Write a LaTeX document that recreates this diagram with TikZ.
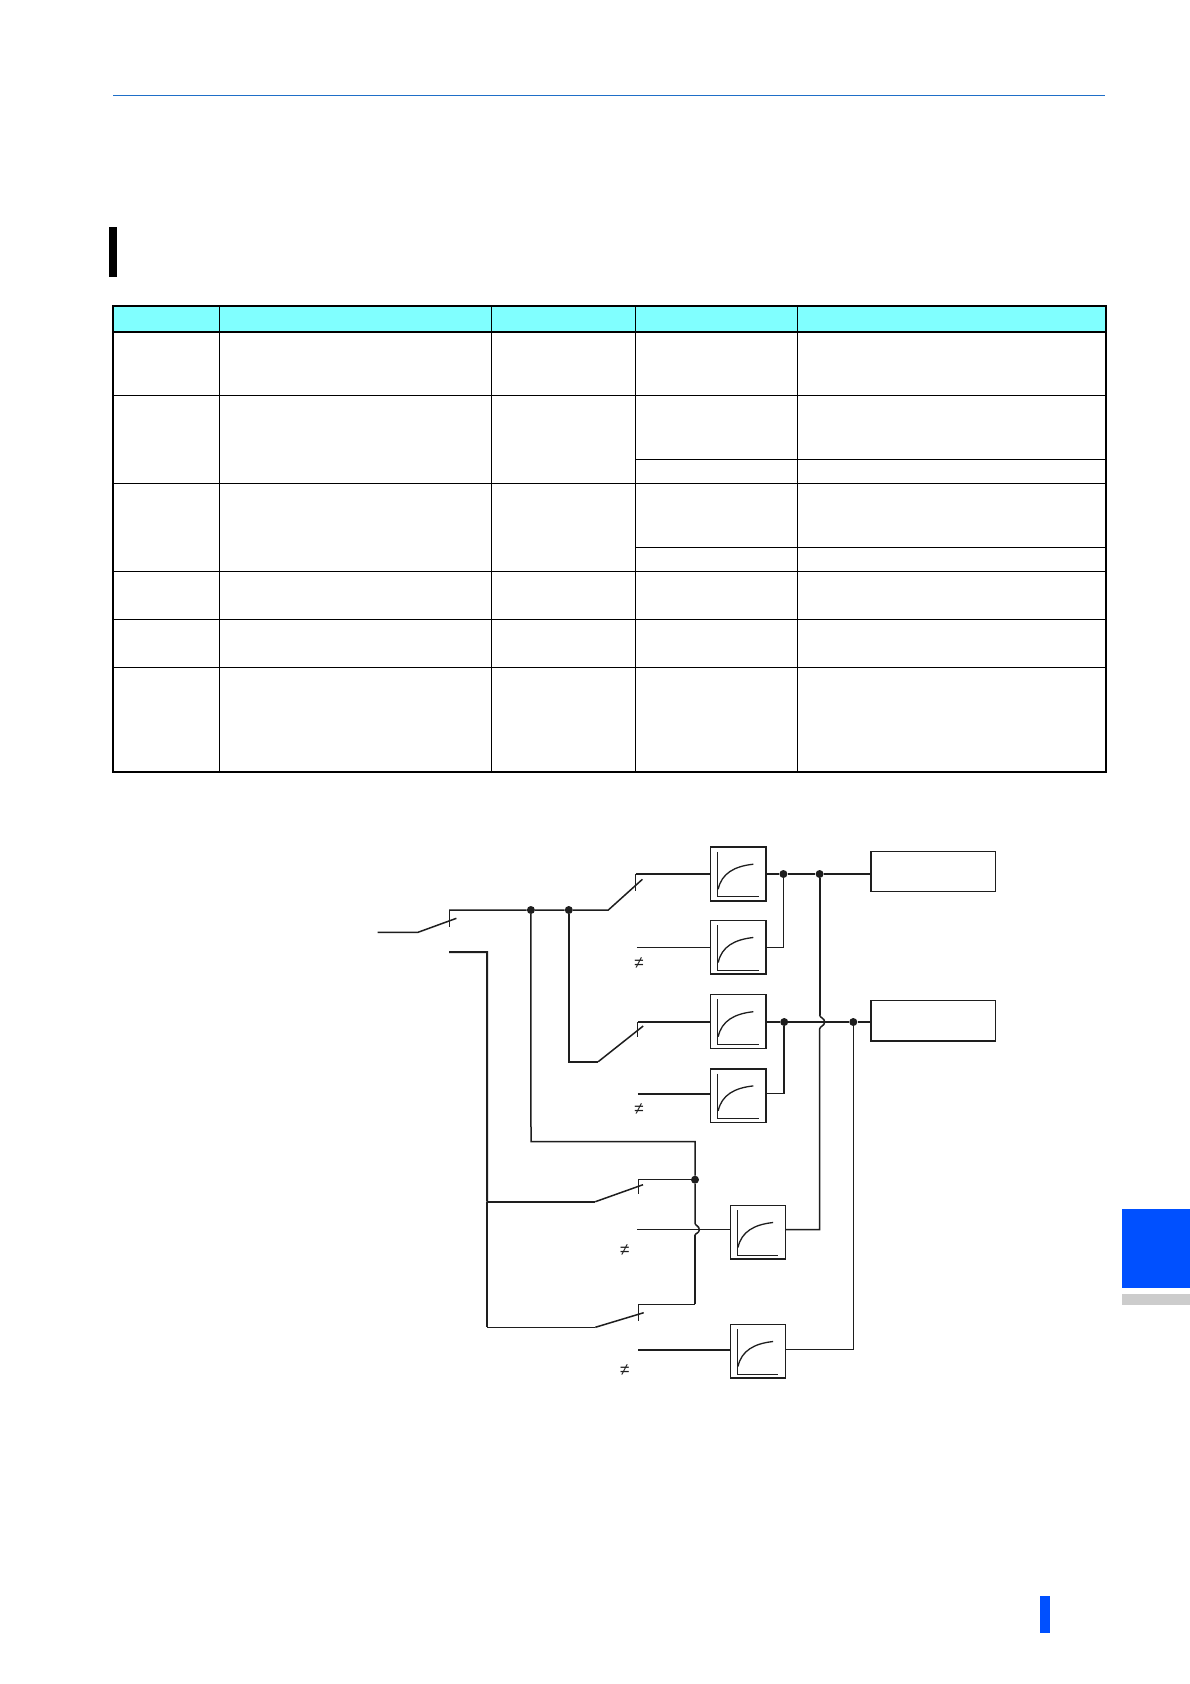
\documentclass[tikz,border=0pt]{standalone}
\usepackage{fontspec}
\newfontfamily\symfont{Liberation Sans}
\usetikzlibrary{calc}
\definecolor{ink}{HTML}{1E1E1E}
\definecolor{rulecol}{HTML}{1F6FC8}
\definecolor{headcyan}{HTML}{80FFFF}
\definecolor{tabblue}{HTML}{0050FF}
\definecolor{tabgrey}{HTML}{CCCCCC}
\tikzset{
  x=1pt,y=-1pt,
  thinw/.style={draw=ink,line width=1.2pt,line join=miter},
  midw/.style={draw=ink,line width=1.5pt,line join=miter},
  thickw/.style={draw=ink,line width=2pt,line join=miter},
  lagbox/.style={draw=ink,fill=white,line width=1.5pt,rectangle,inner sep=0pt,outer sep=0pt,minimum width=55.2pt,minimum height=53.6pt},
  outbox/.style={draw=ink,fill=white,line width=1.4pt,rectangle,inner sep=0pt,outer sep=0pt,minimum width=124.5pt,minimum height=40.2pt},
  junction/.style={circle,fill=ink,draw=none,inner sep=0pt,minimum size=8pt},
  neqmark/.style={inner sep=0pt,text=ink,font=\symfont\fontsize{17}{17}\selectfont},
  tblthin/.style={draw=black,line width=1.2pt},
  tblthick/.style={draw=black,line width=2.2pt}
}
\newcommand{\lagcurve}[1]{%
  \draw[ink,line width=1.1pt] ([xshift=7.3pt,yshift=-4.7pt]#1.north west) -- ([xshift=7.3pt,yshift=-49.7pt]#1.north west) -- ([xshift=48pt,yshift=-49.7pt]#1.north west);
  \draw[ink,line width=1.3pt] ([xshift=7.6pt,yshift=-42pt]#1.north west) .. controls ([xshift=11pt,yshift=-26pt]#1.north west) and ([xshift=24pt,yshift=-19pt]#1.north west) .. ([xshift=42.7pt,yshift=-17pt]#1.north west);
}
\begin{document}
\begin{tikzpicture}
\useasboundingbox (0,0) rectangle (1190,1684);
\fill[white] (0,0) rectangle (1190,1684);
% page furniture
\draw[rulecol,line width=1.2pt] (113,95.5) -- (1105,95.5);
\fill[black] (109,226.7) rectangle (117,277);
\fill[tabblue] (1122,1209) rectangle (1190,1288);
\fill[tabgrey] (1122,1294) rectangle (1190,1305);
\fill[tabblue] (1040,1596) rectangle (1050,1633);
% table
\fill[headcyan] (113.3,306) rectangle (1106,331.7);
\foreach \yy in {395.5,483.5,571.5,619.5,667.5} \draw[tblthin] (113.3,\yy) -- (1106,\yy);
\foreach \yy in {459.5,547.5} \draw[tblthin] (635.5,\yy) -- (1106,\yy);
\foreach \xx in {219.5,491.5,635.5,797.5} \draw[tblthin] (\xx,306) -- (\xx,771.7);
\draw[tblthick] (113.3,331.7) -- (1106,331.7);
\draw[tblthick] (113.3,306) rectangle (1106,771.7);

% blocks
\node[lagbox] (b1) at (738.2,874) {};
\node[lagbox] (b2) at (738.2,947.3) {};
\node[lagbox] (b3) at (738.2,1021.5) {};
\node[lagbox] (b4) at (738.2,1095.7) {};
\node[lagbox] (b5) at (758,1232.3) {};
\node[lagbox] (b6) at (758,1351.3) {};
\node[outbox] (o1) at (933.3,871.5) {};
\node[outbox] (o2) at (933.3,1020.7) {};
\foreach \b in {b1,b2,b3,b4,b5,b6} {\lagcurve{\b}}

% junctions
\node[junction] (j1) at (530.9,910) {};
\node[junction] (j2) at (568.8,910) {};
\node[junction] (j3) at (783.4,874) {};
\node[junction] (j4) at (819.6,874) {};
\node[junction] (j5) at (784.2,1022) {};
\node[junction] (j6) at (853.3,1022) {};
\node[junction] (j7) at (695,1179.7) {};

% free ends
\coordinate (sw0in) at (377.7,932.3);
\coordinate (sw0hinge) at (418,932.3);
\coordinate (sw0tip) at (456.4,918.3);
\coordinate (sw0up) at (449.2,910);
\coordinate (sw0tb) at (449.2,926.7);
\coordinate (sw0lo) at (449.2,952);
\coordinate (bus) at (487.1,952);
\coordinate (sw1hinge) at (608.3,910);
\coordinate (sw1tip) at (642.4,879.3);
\coordinate (sw1up) at (635.7,874);
\coordinate (sw1tb) at (635.7,891);
\coordinate (in2) at (636.9,947.3);
\coordinate (sw2low) at (568.8,1061.7);
\coordinate (sw2hinge) at (598.2,1061.7);
\coordinate (sw2tip) at (643.2,1026);
\coordinate (sw2up) at (637.8,1022);
\coordinate (sw2tb) at (637.8,1037.3);
\coordinate (in4) at (637.8,1093.7);
\coordinate (busA) at (487,1201.7);
\coordinate (busB) at (487,1327.3);
\coordinate (sw3hinge) at (595.3,1201.7);
\coordinate (sw3tip) at (643,1184.7);
\coordinate (sw3up) at (638.3,1179.7);
\coordinate (sw3tb) at (638.3,1194.3);
\coordinate (sw4hinge) at (595.3,1327.3);
\coordinate (sw4tip) at (643.7,1312.7);
\coordinate (sw4up) at (638.3,1304.3);
\coordinate (sw4tb) at (638.3,1320.7);
\coordinate (in5) at (637.3,1229.7);
\coordinate (in6) at (638,1349.7);
\coordinate (tA) at (531,1141.7);
\coordinate (tB) at (695,1141.7);

% input switch
\draw[midw] (sw0in) -- (sw0hinge) -- (sw0tip);
\draw[thinw] (sw0up) -- (sw0tb);
\draw[midw] (sw0up) -- (j1) -- (j2) -- (sw1hinge) -- (sw1tip);
\draw[thickw] (sw0lo) -- (bus) -- (busA);
\draw[midw] (busA) -- (busB);
% switch 1 and block 1, 2
\draw[midw] (sw1up) -- (sw1tb);
\draw[thinw] (sw1up) -- (sw1up -| b1.west);
\draw[thinw] (in2) -- (in2 -| b2.west);
\draw[thinw] (b1.east |- j3) -- (j3) -- (j4) -- (j4 -| o1.west);
\draw[thinw] (b2.east |- in2) -- (j3 |- in2) -- (j3);
% switch 2 and block 3, 4
\draw[thickw] (j2) -- (sw2low) -- (sw2hinge);
\draw[midw] (sw2hinge) -- (sw2tip);
\draw[thinw] (sw2up) -- (sw2tb);
\draw[thickw] (sw2up) -- (sw2up -| b3.west);
\draw[thickw] (in4) -- (in4 -| b4.west);
\draw[thickw] (b3.east |- j5) -- (j5) -- (j6) -- (j6 -| o2.west);
\draw[midw] (b4.east |- in4) -- (j5 |- in4) -- (j5);
% vertical return with jump over the output line
\draw[thickw] (j4) -- (819.6,1015);
\draw[midw] (819.6,1015) .. controls (820,1018) and (824.6,1018) .. (824.6,1022) .. controls (824.6,1026) and (820,1026) .. (819.6,1029) -- (819.6,1229.7) -- (b5.east |- 819.6,1229.7);
\draw[thinw] (j6) -- (853.3,1349.7);
\draw[midw] (853.3,1349.7) -- (b6.east |- 853.3,1349.7);
% feed to the lower switches
\draw[midw] (j1) -- (tA |- 0,1141.7) -- (tB) -- (j7);
\draw[midw] (j7) -- (695,1223.3) .. controls (695.2,1225.5) and (699.3,1226) .. (699.3,1229.7) .. controls (699.3,1233) and (695.2,1233.5) .. (695,1235);
\draw[thickw] (695,1235) -- (695,1304.3);
\draw[thinw] (695,1304.3) -- (sw4up);
\draw[thinw] (sw3up) -- (j7);
\draw[thinw] (sw3up) -- (sw3tb);
\draw[thickw] (busA) -- (sw3hinge);
\draw[midw] (sw3hinge) -- (sw3tip);
\draw[thinw] (busB) -- (sw4hinge);
\draw[midw] (sw4hinge) -- (sw4tip);
\draw[thinw] (sw4up) -- (sw4tb);
\draw[thinw] (in5) -- (in5 -| b5.west);
\draw[thickw] (in6) -- (in6 -| b6.west);
% not-equal marks
\node[neqmark] (n1) at (639,963.3) {≠};
\node[neqmark] (n2) at (639,1109) {≠};
\node[neqmark] (n3) at (624.7,1250) {≠};
\node[neqmark] (n4) at (624.7,1370) {≠};
\end{tikzpicture}
\end{document}
